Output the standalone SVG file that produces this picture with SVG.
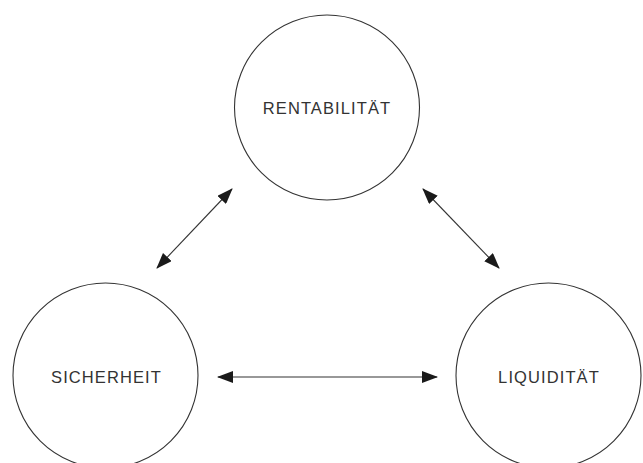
<svg xmlns="http://www.w3.org/2000/svg" width="643" height="463" viewBox="0 0 643 463">
<style>
.node circle{fill:none;stroke:#333;stroke-width:1.1}
.node text{font-family:"Liberation Sans",Arial,sans-serif;font-size:16.5px;letter-spacing:1.1px;fill:#333;text-anchor:middle}
.conn line{stroke:#333;stroke-width:1.1}
</style>
<defs>
<marker id="ah" viewBox="0 0 16 12" refX="15" refY="6" markerWidth="16" markerHeight="12" markerUnits="userSpaceOnUse" orient="auto-start-reverse">
<path d="M0,0 L16,6 L0,12 Z" fill="#1a1a1a"/>
</marker>
</defs>
<rect width="643" height="463" fill="#fff"/>
<g id="rentabilitaet" class="node">
<circle cx="327" cy="107.5" r="92.5"/>
<text x="327" y="114">RENTABILITÄT</text>
</g>
<g id="sicherheit" class="node">
<circle cx="105.5" cy="375.5" r="92.5"/>
<text x="106.5" y="382.5">SICHERHEIT</text>
</g>
<g id="liquiditaet" class="node">
<circle cx="548.5" cy="375.5" r="92.5"/>
<text x="549" y="382.5">LIQUIDITÄT</text>
</g>
<g id="connectors" class="conn">
<line x1="232" y1="189" x2="157" y2="268" marker-start="url(#ah)" marker-end="url(#ah)"/>
<line x1="423" y1="189" x2="499" y2="268" marker-start="url(#ah)" marker-end="url(#ah)"/>
<line x1="218" y1="377" x2="437" y2="377" marker-start="url(#ah)" marker-end="url(#ah)"/>
</g>
</svg>
